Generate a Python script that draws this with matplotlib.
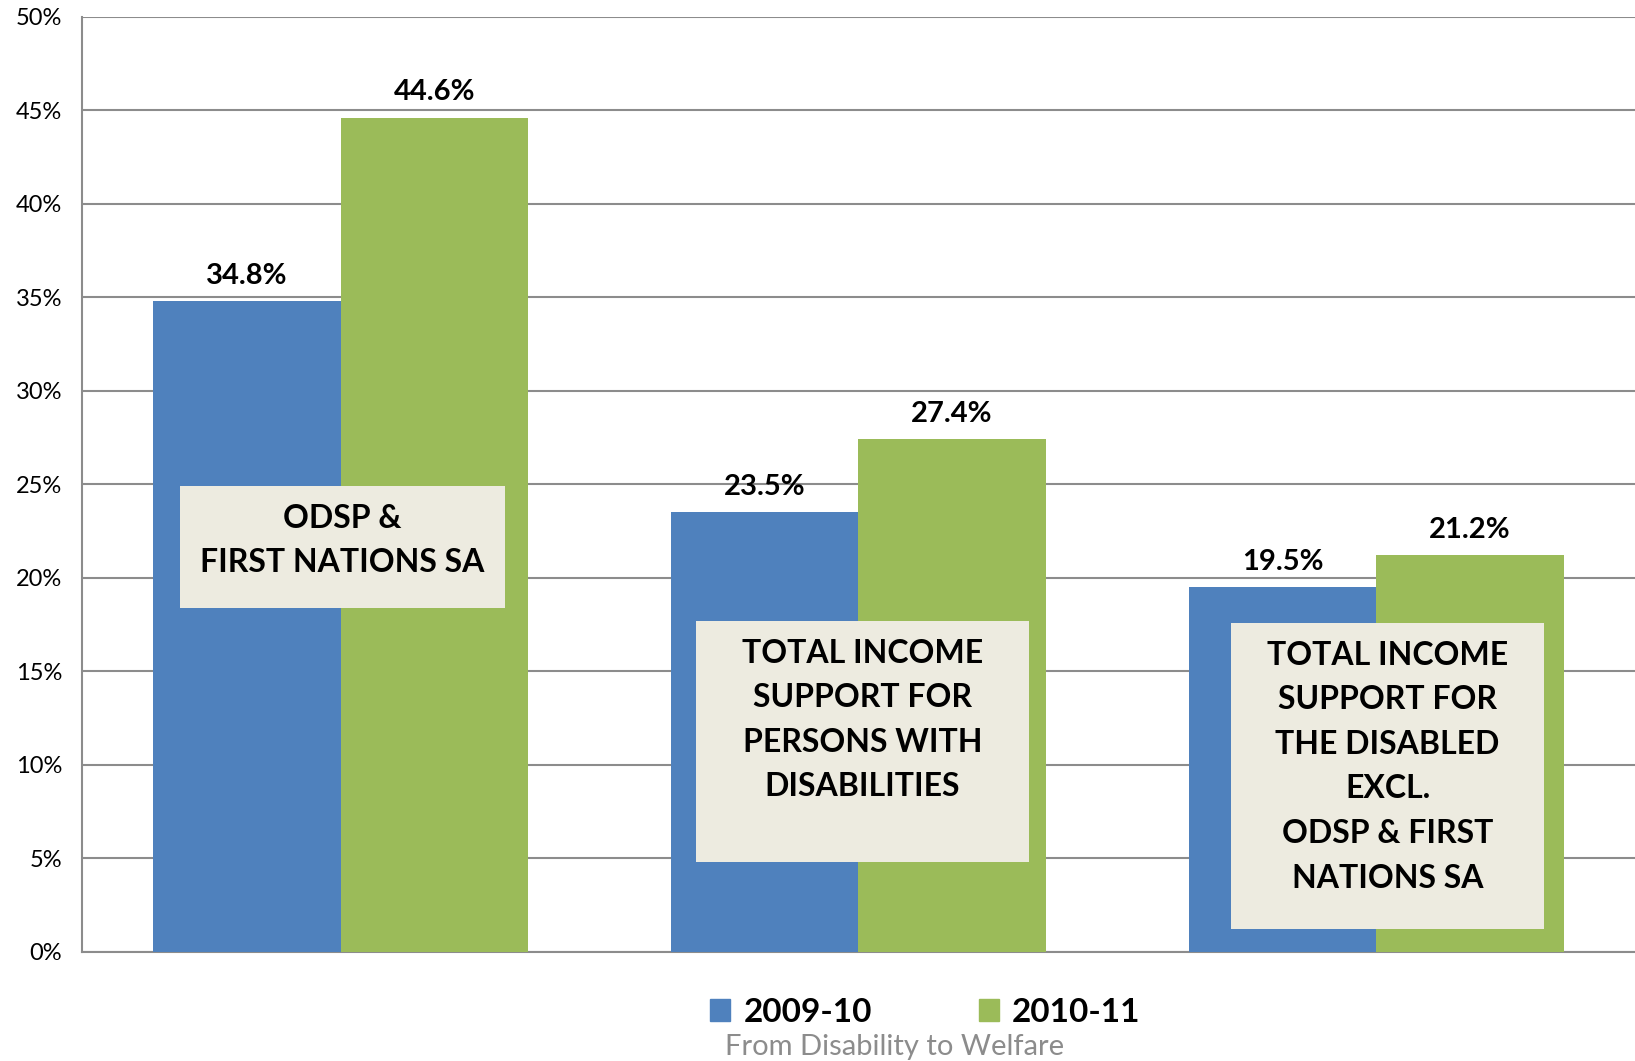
import matplotlib.pyplot as plt
import numpy as np
from matplotlib.patches import Patch, Rectangle

plt.rcParams['font.family'] = ['Lato', 'DejaVu Sans']

# Данные
категории = ["ODSP &\nFIRST NATIONS SA",
             "TOTAL INCOME\nSUPPORT FOR\nPERSONS WITH\nDISABILITIES",
             "TOTAL INCOME\nSUPPORT FOR\nTHE DISABLED\nEXCL.\nODSP & FIRST\nNATIONS SA"]
годы = ["2009-10", "2010-11"]
v2009 = [34.8, 23.5, 19.5]
v2010 = [44.6, 27.4, 21.2]

синий = "#4F81BD"
зелёный = "#9BBB59"

fig = plt.figure(figsize=(16.35, 10.61), dpi=100)
ax = fig.add_axes([0.050, 0.103, 0.950, 0.881])

x = np.arange(len(категории))
w = 0.362
b1 = ax.bar(x - w / 2, v2009, w, color=синий, zorder=3)
b2 = ax.bar(x + w / 2, v2010, w, color=зелёный, zorder=3)

# подписи значений
for bars in (b1, b2):
    for b in bars:
        h = b.get_height()
        ax.annotate(f"{h:.1f}%", (b.get_x() + b.get_width() / 2, h),
                    xytext=(0, 9), textcoords="offset points",
                    ha="center", va="bottom", fontsize=21, fontweight="bold")

# плашки с названиями: (x0, x1, y0, y1, центр текста)
коробки = [(-0.311, 0.317, 18.4, 24.9, 22.0),
           (0.687, 1.329, 4.8, 17.7, 12.4),
           (1.719, 2.325, 1.2, 17.6, 9.9)]
for i, (x0, x1, y0, y1, yc) in enumerate(коробки):
    ax.add_patch(Rectangle((x0, y0), x1 - x0, y1 - y0, fc="#EDEBE0",
                           ec="none", zorder=4))
    ax.text((x0 + x1) / 2, yc, категории[i], ha="center", va="center",
            fontsize=23, fontweight="bold", linespacing=1.65, zorder=5)

ax.set_xlim(-0.5, 2.5)
ax.set_ylim(0, 50)
ax.set_yticks(range(0, 51, 5))
ax.set_yticklabels([f"{t}%" for t in range(0, 51, 5)], fontsize=17)
ax.set_xticks([])
ax.tick_params(axis="y", length=0, pad=14)
ax.yaxis.grid(True, color="#8C8C8C", linewidth=1.5, zorder=0)
for s in ("top", "right"):
    ax.spines[s].set_visible(False)
for s in ("left", "bottom"):
    ax.spines[s].set_color("#8C8C8C")
    ax.spines[s].set_linewidth(1.5)

handles = [Patch(color=синий), Patch(color=зелёный)]
fig.legend(handles, годы, loc="center", bbox_to_anchor=(0.566, 0.046), ncol=2,
           frameon=False, prop=dict(size=24, weight="bold"),
           handlelength=0.6, handleheight=0.6, handletextpad=0.4,
           columnspacing=3.2)
fig.text(0.547, 0.013, "From Disability to Welfare", ha="center", va="center",
         fontsize=21, color="#8C8C8C")

fig.savefig("out.png", dpi=100)
